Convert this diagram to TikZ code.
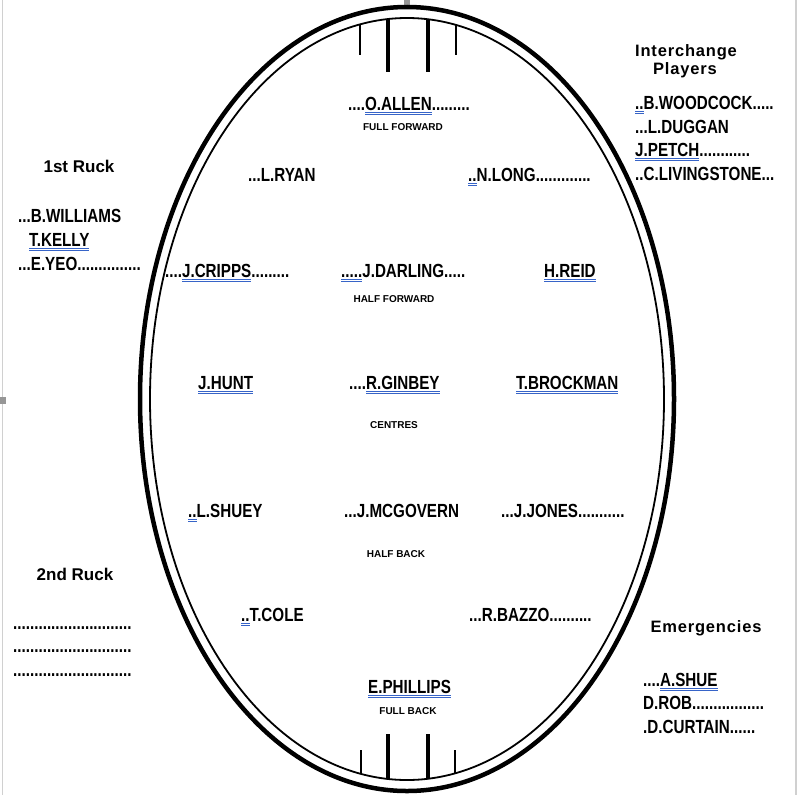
\documentclass[tikz,border=0pt]{standalone}
\usepackage{fontspec}
\setmainfont{Liberation Sans}
\newfontfamily\playerfont{Liberation Sans}[FakeStretch=0.8]
\newfontfamily\spacedfont{Liberation Sans}[LetterSpace=5]
\usepackage{tikz}
\definecolor{GramBlue}{RGB}{55, 100, 200}
\definecolor{EdgeGray}{RGB}{208, 208, 208}
\definecolor{HandleGray}{RGB}{150, 150, 150}
% double blue underline as in the scanned sheet
\newcommand\gram[1]{\setbox0\hbox{#1}%
  \rlap{\color{GramBlue}\rule[-2.9pt]{\wd0}{0.9pt}}%
  \rlap{\color{GramBlue}\rule[-4.9pt]{\wd0}{0.9pt}}\box0}
\tikzset{
  player/.style={anchor=base west, inner sep=0pt,
    font=\playerfont\bfseries\fontsize{19}{22}\selectfont},
  role/.style={anchor=base, inner sep=0pt,
    font=\bfseries\fontsize{10}{12}\selectfont},
  heading/.style={anchor=base, inner sep=0pt,
    font=\bfseries\fontsize{17}{20}\selectfont},
  spacedhead/.style={anchor=base, inner sep=0pt,
    font=\spacedfont\bfseries\fontsize{16.5}{19}\selectfont},
  outerline/.style={line width=4.5pt},
  innerline/.style={line width=1.8pt},
  goalpost/.style={line width=4pt},
  behindpost/.style={line width=2.6pt},
}

\begin{document}
\begin{tikzpicture}[x=1pt, y=-1pt]
  \useasboundingbox (0,0) rectangle (802,795);
  % page edges and handles
  \draw[EdgeGray, line width=1.5pt] (2.5,0) -- (2.5,795);
  \draw[EdgeGray, line width=2pt] (796,0) -- (796,795);
  \fill[HandleGray] (404,0) rectangle (410,6);
  \fill[HandleGray] (0,397) rectangle (6,404);
  % oval
  \draw[outerline] (407,399) ellipse [x radius=267, y radius=392];
  \draw[innerline] (407,399) ellipse [x radius=257, y radius=381];
  % goals
  \draw[goalpost] (388,19) -- (388,72);
  \draw[goalpost] (428,19) -- (428,72);
  \draw[behindpost] (360,24) -- (360,55);
  \draw[behindpost] (456,24) -- (456,55);
  \draw[goalpost] (388,734) -- (388,779);
  \draw[goalpost] (428,734) -- (428,779);
  \draw[behindpost] (361,750) -- (361,774);
  \draw[behindpost] (455,750) -- (455,774);

  % full forward
  \node[player] (allen) at (348,110) {....\gram{O.ALLEN}.........};
  \node[role] (ff) at (403,130) {FULL FORWARD};
  \node[player] (ryan) at (248,181) {...L.RYAN};
  \node[player] (long) at (468,181) {\gram{..}N.LONG.............};
  % half forward
  \node[player] (cripps) at (165,277) {....\gram{J.CRIPPS}.........};
  \node[player] (darling) at (341,277) {\gram{.....}J.DARLING.....};
  \node[player] (reid) at (544,277) {\gram{H.REID}};
  \node[role] (hf) at (394,302) {HALF FORWARD};
  % centres
  \node[player] (hunt) at (198,389) {\gram{J.HUNT}};
  \node[player] (ginbey) at (349,389) {....\gram{R.GINBEY}};
  \node[player] (brockman) at (516,389) {\gram{T.BROCKMAN}};
  \node[role] (ctr) at (394,428) {CENTRES};
  % half back
  \node[player] (shuey) at (188,517) {\gram{..}L.SHUEY};
  \node[player] (mcgovern) at (344,517) {...J.MCGOVERN};
  \node[player] (jones) at (501,517) {...J.JONES...........};
  \node[role] (hb) at (396,557) {HALF BACK};
  % full back
  \node[player] (cole) at (241,621) {\gram{..}T.COLE};
  \node[player] (bazzo) at (469,621) {...R.BAZZO..........};
  \node[player] (phillips) at (368,693) {\gram{E.PHILLIPS}};
  \node[role] (fb) at (408,714) {FULL BACK};

  % rucks
  \node[heading] (ruck1) at (79,172) {1st Ruck};
  \node[player] (williams) at (18,222) {...B.WILLIAMS};
  \node[player] (kelly) at (29,246) {\gram{T.KELLY}};
  \node[player] (yeo) at (18,270) {...E.YEO...............};
  \node[heading] (ruck2) at (75,580) {2nd Ruck};
  \node[player] (blank1) at (13,629) {............................};
  \node[player] (blank2) at (13,652) {............................};
  \node[player] (blank3) at (13,676) {............................};

  % interchange and emergencies
  \node[spacedhead] (inter) at (686,56) {Interchange};
  \node[spacedhead] (players) at (685,74) {Players};
  \node[player] (woodcock) at (635,109) {\gram{..}B.WOODCOCK.....};
  \node[player] (duggan) at (635,133) {...L.DUGGAN};
  \node[player] (petch) at (635,156) {\gram{J.PETCH}............};
  \node[player] (livingstone) at (635,180) {..C.LIVINGSTONE...};
  \node[spacedhead] (emerg) at (706,632) {Emergencies};
  \node[player] (shue) at (643,686) {....\gram{A.SHUE}};
  \node[player] (rob) at (643,709) {D.ROB.................};
  \node[player] (curtain) at (643,733) {.D.CURTAIN......};
\end{tikzpicture}
\end{document}
